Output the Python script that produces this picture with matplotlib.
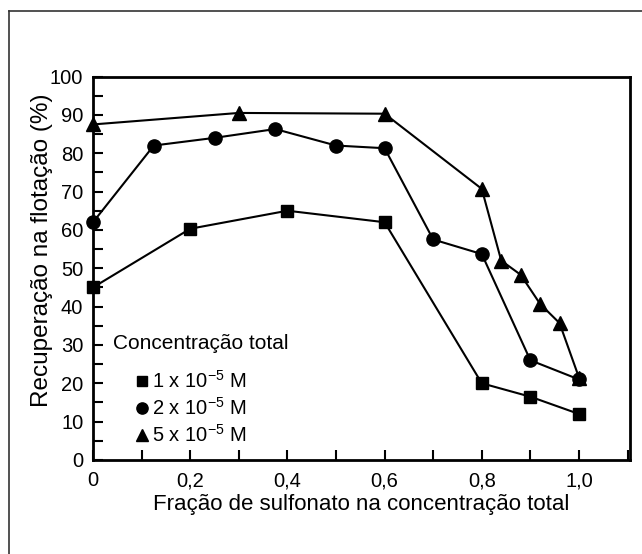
import matplotlib.pyplot as plt
from matplotlib.lines import Line2D
from matplotlib.ticker import MultipleLocator, FuncFormatter

plt.rcParams['font.family'] = ['Liberation Sans', 'DejaVu Sans']
plt.rcParams['mathtext.fontset'] = 'custom'
plt.rcParams['mathtext.rm'] = 'Liberation Sans'

# 1 x 10^-5 M
x1 = [0, 0.2, 0.4, 0.6, 0.8, 0.9, 1.0]
y1 = [45, 60.3, 65, 62, 20, 16.5, 12]

# 2 x 10^-5 M
x2 = [0, 0.125, 0.25, 0.375, 0.5, 0.6, 0.7, 0.8, 0.9, 1.0]
y2 = [62, 82, 84, 86.3, 82, 81.3, 57.5, 53.7, 26, 21]

# 5 x 10^-5 M
x3 = [0, 0.3, 0.6, 0.8, 0.84, 0.88, 0.92, 0.96, 1.0]
y3 = [87.5, 90.5, 90.3, 70.7, 52, 48.3, 40.7, 35.7, 21.5]

labels = [r'1 x 10$^{\mathdefault{-5}}$ M', r'2 x 10$^{\mathdefault{-5}}$ M', r'5 x 10$^{\mathdefault{-5}}$ M']
markers = ['s', 'o', '^']
sizes = [9, 9.5, 10]

fig = plt.figure(figsize=(6.42, 5.54), dpi=100)
ax = fig.add_axes([0.1449, 0.1697, 0.8364, 0.6922])

# outer frame (only top and left edge visible)
fig.add_artist(Line2D([9/642, 9/642], [0, 1 - 11/554], transform=fig.transFigure, color='#333333', lw=1.2))
fig.add_artist(Line2D([9/642, 1], [1 - 11/554, 1 - 11/554], transform=fig.transFigure, color='#333333', lw=1.2))

for xs, ys, m, s in zip([x1, x2, x3], [y1, y2, y3], markers, sizes):
    ax.plot(xs, ys, color='black', lw=1.5, marker=m, ms=s, clip_on=False, zorder=3)

ax.set_xlim(0, 1.105)
ax.set_ylim(0, 100)
ax.xaxis.set_major_locator(MultipleLocator(0.2))
ax.xaxis.set_minor_locator(MultipleLocator(0.1))
ax.yaxis.set_major_locator(MultipleLocator(10))
ax.yaxis.set_minor_locator(MultipleLocator(5))
ax.xaxis.set_major_formatter(FuncFormatter(lambda v, p: '0' if v == 0 else ('%.1f' % v).replace('.', ',')))
ax.tick_params(which='both', direction='in', length=7, width=1.5, labelsize=14.5)
ax.tick_params(axis='x', pad=8)
ax.tick_params(axis='y', pad=7)
for sp in ax.spines.values():
    sp.set_linewidth(2)

ax.set_xlabel('Fração de sulfonato na concentração total', fontsize=16, labelpad=3)
ax.set_ylabel('Recuperação na flotação (%)', fontsize=17.5, va='center')
ax.yaxis.set_label_coords(-0.095, 0.548)

ax.text(0.037, 0.305, 'Concentração total', transform=ax.transAxes, fontsize=15, va='center', ha='left')
handles = [Line2D([], [], color='black', ls='none', marker=m, ms=s * 0.85) for m, s in zip(markers, sizes)]
ax.legend(handles, labels, loc='center left', bbox_to_anchor=(0.08, 0.135), frameon=False,
          fontsize=14.5, handlelength=0.6, handletextpad=0.2, labelspacing=0.25,
          borderpad=0, borderaxespad=0)

fig.savefig('out.png', dpi=100)
